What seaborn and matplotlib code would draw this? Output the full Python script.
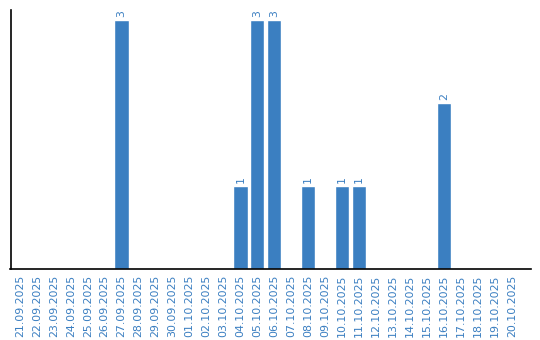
import matplotlib
matplotlib.use("Agg")
import matplotlib.pyplot as plt
import seaborn as sns
import pandas as pd

dates = ["21.09.2025", "22.09.2025", "23.09.2025", "24.09.2025", "25.09.2025",
         "26.09.2025", "27.09.2025", "28.09.2025", "29.09.2025", "30.09.2025",
         "01.10.2025", "02.10.2025", "03.10.2025", "04.10.2025", "05.10.2025",
         "06.10.2025", "07.10.2025", "08.10.2025", "09.10.2025", "10.10.2025",
         "11.10.2025", "12.10.2025", "13.10.2025", "14.10.2025", "15.10.2025",
         "16.10.2025", "17.10.2025", "18.10.2025", "19.10.2025", "20.10.2025"]
counts = [0, 0, 0, 0, 0, 0, 3, 0, 0, 0,
          0, 0, 0, 1, 3, 3, 0, 1, 0, 1,
          1, 0, 0, 0, 0, 2, 0, 0, 0, 0]

BLUE = "#3b7fc1"
df = pd.DataFrame({"date": dates, "count": counts})

sns.set_style("white")
plt.rcParams['font.family'] = ['DejaVu Sans']

fig = plt.figure(figsize=(5.4, 3.4), dpi=100)
ax = fig.add_axes([10.5 / 540, 71 / 340, 520 / 540, 259 / 340])
sns.barplot(data=df, x="date", y="count", color=BLUE, saturation=1,
            width=0.84, ax=ax)

for i, v in enumerate(counts):
    if v > 0:
        ax.text(i, v + 0.03, str(v), rotation=90, ha="center", va="bottom",
                color=BLUE, fontsize=7.8)

ax.set_xlim(-0.55, 30.1)
ax.set_ylim(0, 3.12)
ax.set_yticks([])
ax.set_xlabel("")
ax.set_ylabel("")
ax.tick_params(axis="x", labelrotation=90, labelsize=7.9, labelcolor=BLUE,
               length=0, pad=4)
for s in ["top", "right"]:
    ax.spines[s].set_visible(False)
for s in ["left", "bottom"]:
    ax.spines[s].set_color("black")
    ax.spines[s].set_linewidth(1.2)

fig.savefig("out.png", dpi=100)
